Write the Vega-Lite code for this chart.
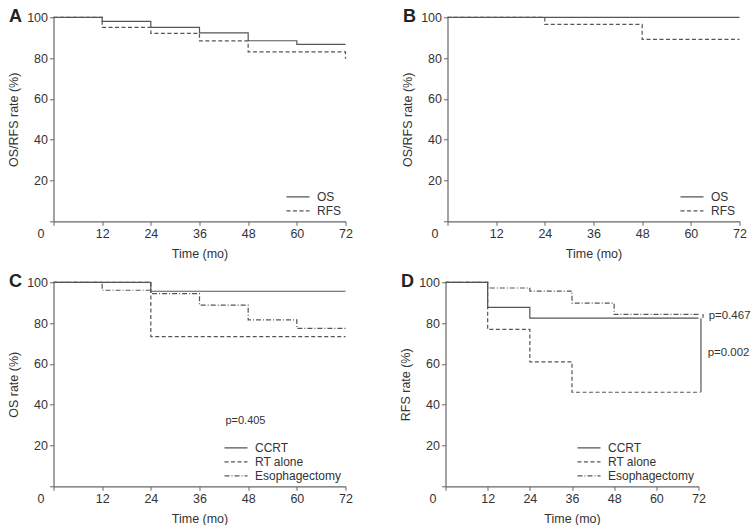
{
  "$schema": "https://vega.github.io/schema/vega-lite/v6.json",
  "padding": {"left": 7.5, "top": 8.3, "right": 0, "bottom": 0},
  "background": "white",
  "config": {
    "font": "Liberation Sans",
    "view": {"stroke": null},
    "axis": {
      "grid": false,
      "domainColor": "#666",
      "tickColor": "#666",
      "domainWidth": 1.2,
      "tickSize": 4,
      "labelPadding": 2,
      "labelColor": "#333",
      "labelFontSize": 12.5,
      "titleColor": "#333",
      "titleFontSize": 12.5,
      "titleFontWeight": "normal"
    },
    "axisX": {"titlePadding": 8, "labelFlush": false},
    "axisY": {"titlePadding": 6},
    "legend": {
      "orient": "bottom-right",
      "title": null,
      "symbolType": "M-1.77,0H1.77",
      "symbolSize": 169,
      "symbolStrokeWidth": 1.2,
      "symbolStrokeColor": "#555",
      "labelFontSize": 12,
      "labelColor": "#333",
      "offset": 4,
      "padding": 0,
      "rowPadding": 0,
      "labelOffset": 11.5
    },
    "line": {"color": "#555", "strokeWidth": 1.2, "interpolate": "step-after"}
  },
  "datasets": {
    "A": [
      {"group": "OS", "i": 0, "t": 0, "s": 100},
      {"group": "OS", "i": 1, "t": 12, "s": 98.0},
      {"group": "OS", "i": 2, "t": 24, "s": 95.1},
      {"group": "OS", "i": 3, "t": 36, "s": 92.4},
      {"group": "OS", "i": 4, "t": 48, "s": 88.5},
      {"group": "OS", "i": 5, "t": 60, "s": 86.7},
      {"group": "OS", "i": 6, "t": 72, "s": 86.7},
      {"group": "RFS", "i": 0, "t": 0, "s": 100},
      {"group": "RFS", "i": 1, "t": 12, "s": 95.1},
      {"group": "RFS", "i": 2, "t": 24, "s": 92.1},
      {"group": "RFS", "i": 3, "t": 36, "s": 88.4},
      {"group": "RFS", "i": 4, "t": 48, "s": 83.1},
      {"group": "RFS", "i": 5, "t": 72, "s": 83.1},
      {"group": "RFS", "i": 6, "t": 72, "s": 79.7}
    ],
    "B": [
      {"group": "OS", "i": 0, "t": 0, "s": 100},
      {"group": "OS", "i": 1, "t": 72, "s": 100},
      {"group": "RFS", "i": 0, "t": 0, "s": 100},
      {"group": "RFS", "i": 1, "t": 24, "s": 96.5},
      {"group": "RFS", "i": 2, "t": 48, "s": 89.2},
      {"group": "RFS", "i": 3, "t": 72, "s": 89.2}
    ],
    "C": [
      {"group": "CCRT", "i": 0, "t": 0, "s": 100},
      {"group": "CCRT", "i": 1, "t": 24, "s": 95.6},
      {"group": "CCRT", "i": 2, "t": 72, "s": 95.6},
      {"group": "RT alone", "i": 0, "t": 0, "s": 100},
      {"group": "RT alone", "i": 1, "t": 24, "s": 73.4},
      {"group": "RT alone", "i": 2, "t": 72, "s": 73.4},
      {"group": "Esophagectomy", "i": 0, "t": 0, "s": 100},
      {"group": "Esophagectomy", "i": 1, "t": 12, "s": 96.1},
      {"group": "Esophagectomy", "i": 2, "t": 24, "s": 94.4},
      {"group": "Esophagectomy", "i": 3, "t": 36, "s": 88.8},
      {"group": "Esophagectomy", "i": 4, "t": 48, "s": 81.6},
      {"group": "Esophagectomy", "i": 5, "t": 60, "s": 77.4},
      {"group": "Esophagectomy", "i": 6, "t": 72, "s": 77.4}
    ],
    "D": [
      {"group": "CCRT", "i": 0, "t": 0, "s": 100},
      {"group": "CCRT", "i": 1, "t": 12, "s": 87.7},
      {"group": "CCRT", "i": 2, "t": 24, "s": 82.4},
      {"group": "CCRT", "i": 3, "t": 72, "s": 82.4},
      {"group": "RT alone", "i": 0, "t": 0, "s": 100},
      {"group": "RT alone", "i": 1, "t": 12, "s": 76.9},
      {"group": "RT alone", "i": 2, "t": 24, "s": 61.0},
      {"group": "RT alone", "i": 3, "t": 36, "s": 46.1},
      {"group": "RT alone", "i": 4, "t": 72.5, "s": 46.1},
      {"group": "Esophagectomy", "i": 0, "t": 0, "s": 100},
      {"group": "Esophagectomy", "i": 1, "t": 12, "s": 97.2},
      {"group": "Esophagectomy", "i": 2, "t": 24, "s": 95.7},
      {"group": "Esophagectomy", "i": 3, "t": 36, "s": 89.8},
      {"group": "Esophagectomy", "i": 4, "t": 48, "s": 84.3},
      {"group": "Esophagectomy", "i": 5, "t": 72, "s": 84.3}
    ]
  },
  "resolve": {"scale": {"strokeDash": "independent"}, "legend": {"strokeDash": "independent"}},
  "spacing": 13,
  "vconcat": [
    {
      "spacing": 49,
      "resolve": {"scale": {"strokeDash": "independent"}, "legend": {"strokeDash": "independent"}},
      "hconcat": [
        {
          "width": 292, "height": 204,
          "layer": [
            {
              "data": {"name": "A"},
              "mark": {"type": "line"},
              "encoding": {
                "x": {"field": "t", "type": "quantitative", "scale": {"domain": [0, 72], "nice": false},
                  "axis": {"title": "Time (mo)", "values": [0, 12, 24, 36, 48, 60, 72], "labelOffset": {"condition": {"test": "datum.value === 0", "value": -13}, "value": 0}}},
                "y": {"field": "s", "type": "quantitative", "scale": {"domain": [0, 100], "nice": false},
                  "axis": {"title": "OS/RFS rate (%)", "values": [0, 20, 40, 60, 80, 100], "labelExpr": "datum.value === 0 ? '' : datum.label"}},
                "strokeDash": {"field": "group", "type": "nominal", "scale": {"domain": ["OS", "RFS"], "range": [[1, 0], [4, 2.5]]}},
                "order": {"field": "i", "type": "quantitative"}
              }
            },
            {
              "data": {"values": [{"label": "A", "t": 0, "s": 100}]},
              "mark": {"type": "text", "dx": -38, "align": "center", "baseline": "middle", "fontWeight": "bold", "fontSize": 18, "color": "#222"},
              "encoding": {"x": {"field": "t", "type": "quantitative"}, "y": {"field": "s", "type": "quantitative"}, "text": {"field": "label"}}
            }
          ]
        },
        {
          "width": 292, "height": 204,
          "layer": [
            {
              "data": {"name": "B"},
              "mark": {"type": "line"},
              "encoding": {
                "x": {"field": "t", "type": "quantitative", "scale": {"domain": [0, 72], "nice": false},
                  "axis": {"title": "Time (mo)", "values": [0, 12, 24, 36, 48, 60, 72], "labelOffset": {"condition": {"test": "datum.value === 0", "value": -13}, "value": 0}}},
                "y": {"field": "s", "type": "quantitative", "scale": {"domain": [0, 100], "nice": false},
                  "axis": {"title": "OS/RFS rate (%)", "values": [0, 20, 40, 60, 80, 100], "labelExpr": "datum.value === 0 ? '' : datum.label"}},
                "strokeDash": {"field": "group", "type": "nominal", "scale": {"domain": ["OS", "RFS"], "range": [[1, 0], [4, 2.5]]}},
                "order": {"field": "i", "type": "quantitative"}
              }
            },
            {
              "data": {"values": [{"label": "B", "t": 0, "s": 100}]},
              "mark": {"type": "text", "dx": -38, "align": "center", "baseline": "middle", "fontWeight": "bold", "fontSize": 18, "color": "#222"},
              "encoding": {"x": {"field": "t", "type": "quantitative"}, "y": {"field": "s", "type": "quantitative"}, "text": {"field": "label"}}
            }
          ]
        }
      ]
    },
    {
      "spacing": 47,
      "resolve": {"scale": {"strokeDash": "independent"}, "legend": {"strokeDash": "independent"}},
      "hconcat": [
        {
          "width": 292, "height": 204,
          "layer": [
            {
              "data": {"name": "C"},
              "mark": {"type": "line"},
              "encoding": {
                "x": {"field": "t", "type": "quantitative", "scale": {"domain": [0, 72], "nice": false},
                  "axis": {"title": "Time (mo)", "values": [0, 12, 24, 36, 48, 60, 72], "labelOffset": {"condition": {"test": "datum.value === 0", "value": -13}, "value": 0}}},
                "y": {"field": "s", "type": "quantitative", "scale": {"domain": [0, 100], "nice": false},
                  "axis": {"title": "OS rate (%)", "values": [0, 20, 40, 60, 80, 100], "labelExpr": "datum.value === 0 ? '' : datum.label"}},
                "strokeDash": {"field": "group", "type": "nominal", "scale": {"domain": ["CCRT", "RT alone", "Esophagectomy"], "range": [[1, 0], [4, 2.5], [5, 2, 1, 2]]}},
                "order": {"field": "i", "type": "quantitative"}
              }
            },
            {
              "data": {"values": [{"label": "p=0.405", "t": 42.4, "s": 32}]},
              "mark": {"type": "text", "align": "left", "baseline": "middle", "fontSize": 11, "color": "#333"},
              "encoding": {"x": {"field": "t", "type": "quantitative"}, "y": {"field": "s", "type": "quantitative"}, "text": {"field": "label"}}
            },
            {
              "data": {"values": [{"label": "C", "t": 0, "s": 100}]},
              "mark": {"type": "text", "dx": -38, "align": "center", "baseline": "middle", "fontWeight": "bold", "fontSize": 18, "color": "#222"},
              "encoding": {"x": {"field": "t", "type": "quantitative"}, "y": {"field": "s", "type": "quantitative"}, "text": {"field": "label"}}
            }
          ]
        },
        {
          "width": 253, "height": 204,
          "layer": [
            {
              "data": {"name": "D"},
              "mark": {"type": "line"},
              "encoding": {
                "x": {"field": "t", "type": "quantitative", "scale": {"domain": [0, 72], "nice": false},
                  "axis": {"title": "Time (mo)", "values": [0, 12, 24, 36, 48, 60, 72], "labelOffset": {"condition": {"test": "datum.value === 0", "value": -13}, "value": 0}}},
                "y": {"field": "s", "type": "quantitative", "scale": {"domain": [0, 100], "nice": false},
                  "axis": {"title": "RFS rate (%)", "values": [0, 20, 40, 60, 80, 100], "labelExpr": "datum.value === 0 ? '' : datum.label"}},
                "strokeDash": {"field": "group", "type": "nominal", "scale": {"domain": ["CCRT", "RT alone", "Esophagectomy"], "range": [[1, 0], [4, 2.5], [5, 2, 1, 2]]}},
                "order": {"field": "i", "type": "quantitative"}
              }
            },
            {
              "data": {"values": [{"t": 72.7, "s": 46.1, "s2": 82.4}, {"t": 73.3, "s": 82.6, "s2": 84.5}]},
              "mark": {"type": "rule", "color": "#555", "strokeWidth": 1.2},
              "encoding": {"x": {"field": "t", "type": "quantitative"}, "y": {"field": "s", "type": "quantitative"}, "y2": {"field": "s2"}}
            },
            {
              "data": {"values": [{"label": "p=0.467", "t": 74.9, "s": 83.6}, {"label": "p=0.002", "t": 74.6, "s": 65.2}]},
              "mark": {"type": "text", "align": "left", "baseline": "middle", "fontSize": 11.5, "color": "#333"},
              "encoding": {"x": {"field": "t", "type": "quantitative"}, "y": {"field": "s", "type": "quantitative"}, "text": {"field": "label"}}
            },
            {
              "data": {"values": [{"label": "D", "t": 0, "s": 100}]},
              "mark": {"type": "text", "dx": -38, "align": "center", "baseline": "middle", "fontWeight": "bold", "fontSize": 18, "color": "#222"},
              "encoding": {"x": {"field": "t", "type": "quantitative"}, "y": {"field": "s", "type": "quantitative"}, "text": {"field": "label"}}
            }
          ]
        }
      ]
    }
  ]
}
